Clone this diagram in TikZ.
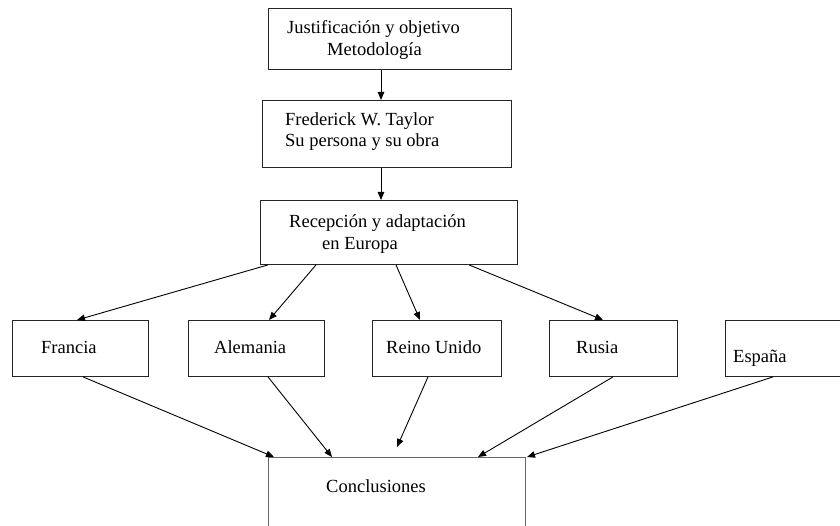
\documentclass[tikz,border=0pt]{standalone}
\usepackage{fontspec}
\setmainfont{Liberation Serif}
\usetikzlibrary{arrows.meta}
\begin{document}
\begin{tikzpicture}[x=1pt,y=-1pt,
  box/.style={draw=black!85,line width=0.9pt,rectangle,inner sep=0pt,anchor=north west},
  txt/.style={anchor=base west,inner sep=0pt,font=\fontsize{18.5}{22}\selectfont},
  conn/.style={line width=0.9pt,-{Triangle[length=8pt,width=6.5pt]}}]
\useasboundingbox (0,0) rectangle (840,526);
\clip (0,0) rectangle (840,526);
% boxes
\node[box,minimum width=243pt,minimum height=61pt] (jus) at (268,8) {};
\node[box,minimum width=249pt,minimum height=67pt] (fwt) at (262,100) {};
\node[box,minimum width=257pt,minimum height=64pt] (rec) at (260,200) {};
\node[box,minimum width=136pt,minimum height=56pt] (fra) at (12,320) {};
\node[box,minimum width=136pt,minimum height=56pt] (ale) at (188,320) {};
\node[box,minimum width=129pt,minimum height=56pt] (reu) at (372,320) {};
\node[box,minimum width=128pt,minimum height=56pt] (rus) at (549,320) {};
\node[box,minimum width=130pt,minimum height=56pt] (esp) at (725,320) {};
\node[box,draw=black!60,line width=1.2pt,minimum width=257pt,minimum height=90pt] (con) at (268,457) {};
% texts
\node[txt] (t1) at (287,34) {Justificación y objetivo};
\node[txt] (t2) at (327,56) {Metodología};
\node[txt] (t3) at (285,126) {Frederick W. Taylor};
\node[txt] (t4) at (285,147) {Su persona y su obra};
\node[txt] (t5) at (289,228) {Recepción y adaptación};
\node[txt] (t6) at (322,250) {en Europa};
\node[txt] (t7) at (41,353) {Francia};
\node[txt] (t8) at (214,353) {Alemania};
\node[txt] (t9) at (386,353) {Reino Unido};
\node[txt] (t10) at (576,353) {Rusia};
\node[txt] (t11) at (733,362) {España};
\node[txt] (t12) at (326,492) {Conclusiones};
% connectors
\draw[conn] ([xshift=113pt]jus.south west) -- ([xshift=119pt]fwt.north west);
\draw[conn] ([xshift=119pt]fwt.south west) -- ([xshift=121pt]rec.north west);
\draw[conn] ([xshift=8pt]rec.south west) -- ([xshift=65pt]fra.north west);
\draw[conn] ([xshift=56pt]rec.south west) -- ([xshift=81pt]ale.north west);
\draw[conn] ([xshift=136pt]rec.south west) -- ([xshift=48pt]reu.north west);
\draw[conn] ([xshift=209pt]rec.south west) -- ([xshift=54pt]rus.north west);
\draw[conn] ([xshift=71pt]fra.south west) -- ([xshift=6pt]con.north west);
\draw[conn] ([xshift=80pt]ale.south west) -- ([xshift=64pt]con.north west);
\draw[conn] ([xshift=56pt]reu.south west) -- ([xshift=129pt,yshift=10pt]con.north west);
\draw[conn] ([xshift=64pt]rus.south west) -- ([xshift=210pt]con.north west);
\draw[conn] ([xshift=48pt]esp.south west) -- ([xshift=259pt]con.north west);
\end{tikzpicture}
\end{document}
